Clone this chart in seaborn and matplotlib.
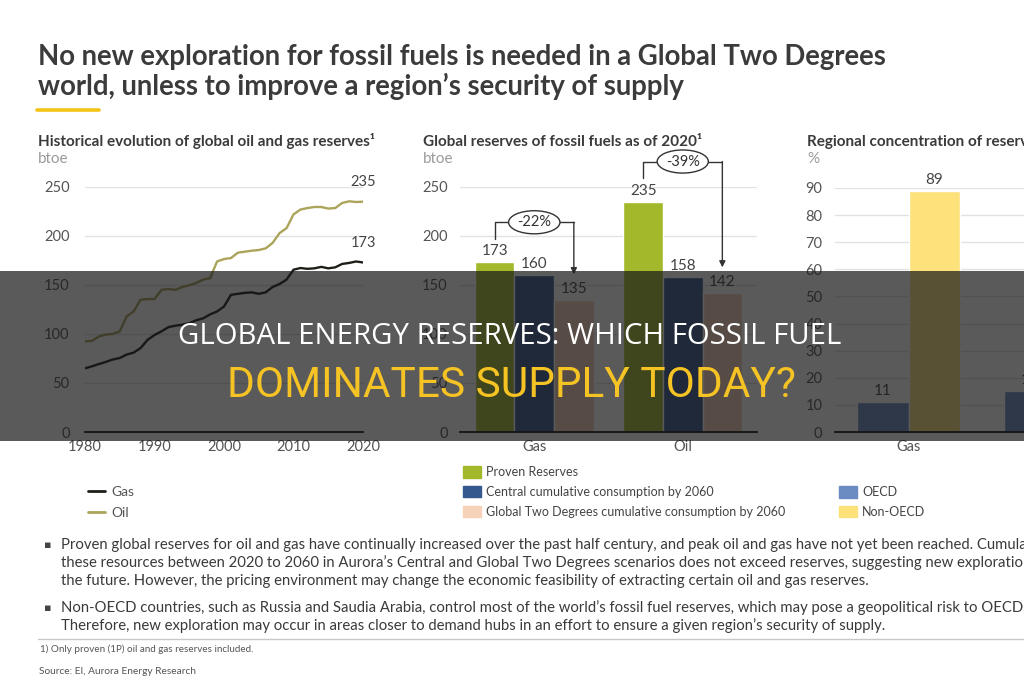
import matplotlib
matplotlib.use('Agg')
import matplotlib.pyplot as plt
from matplotlib.lines import Line2D
from matplotlib.patches import Patch, Rectangle
import numpy as np
import pandas as pd
import seaborn as sns

# historical reserves, btoe
years = list(range(1980, 2021))
gas_reserves = [65, 67, 69.4, 71.5, 74, 75.5, 79, 81, 85.7, 94, 99, 102.7, 107, 108.5, 109.5, 111, 114, 116,
                120, 123, 128, 140, 141, 142, 142.5, 141, 142.5, 148, 151, 155.5, 165.6, 167.3, 166.5, 167,
                168.5, 167, 168, 171.5, 172.5, 174, 173]
oil_reserves = [92.5, 93, 97.5, 99.5, 100, 102.7, 118, 123, 135, 135.7, 135.7, 145, 146, 145, 148, 149.7, 152,
                155.5, 157, 174, 176.5, 177.5, 183, 184, 185, 185.7, 187.4, 193, 203, 208, 222, 227, 228.5,
                229.6, 229.6, 228, 228.5, 233.7, 235.4, 234.7, 235]

# global reserves 2020 vs cumulative consumption
fuels = ['Gas', 'Oil']
series_names = ['Proven Reserves', 'Central cumulative consumption by 2060',
                'Global Two Degrees cumulative consumption by 2060']
proven = [173, 235]
central = [160, 158]
two_degrees = [135, 142]
pct_labels = ['-22%', '-39%']

# regional concentration, %
region_names = ['OECD', 'Non-OECD']
oecd_share = [11, 15]
non_oecd_share = [89, 85]

W, H = 1024, 680
dark = '#3b3b3b'
gas_col = '#1e1e18'
oil_col = '#aba45a'
bar_cols = {series_names[0]: '#a4b82b', series_names[1]: '#35598e', series_names[2]: '#f7d2b8'}
reg_cols = {'OECD': '#6b8cc2', 'Non-OECD': '#fde17a'}


def box(l, r, t, b):
    return [l / W, 1 - b / H, (r - l) / W, (b - t) / H]


def style_axis(ax, ypad):
    sns.despine(ax=ax, left=True, top=True, right=True)
    ax.spines['bottom'].set_color('#111111')
    ax.spines['bottom'].set_linewidth(1.3)
    ax.grid(axis='y', color='#e2e2e2', linewidth=1)
    ax.grid(axis='x', visible=False)
    ax.set_axisbelow(True)
    ax.tick_params(axis='both', length=0, labelsize=10.5, labelcolor='#555555')
    ax.tick_params(axis='y', pad=ypad)
    ax.tick_params(axis='x', pad=6)
    ax.set_xlabel('')
    ax.set_ylabel('')


sns.set_style('white')
plt.rcParams['font.family'] = ['Lato', 'DejaVu Sans']

fig = plt.figure(figsize=(10.24, 6.8), dpi=100)
fig.patch.set_facecolor('white')

# ---- panel 1: line chart
ax1 = fig.add_axes(box(85, 363, 187, 432))
line_df = pd.DataFrame({'Year': years * 2,
                        'Reserves': gas_reserves + oil_reserves,
                        'Fuel': ['Gas'] * len(years) + ['Oil'] * len(years)})
sns.lineplot(data=line_df, x='Year', y='Reserves', hue='Fuel', palette={'Gas': gas_col, 'Oil': oil_col},
             linewidth=1.7, legend=False, ax=ax1)
ax1.set_xlim(1980, 2020)
ax1.set_ylim(0, 250)
ax1.set_yticks(range(0, 251, 50))
ax1.set_xticks(range(1980, 2021, 10))
style_axis(ax1, 11)
ax1.annotate(str(oil_reserves[-1]), xy=(years[-1], oil_reserves[-1]), xytext=(0, 9), textcoords='offset points',
             ha='center', va='bottom', fontsize=10.5, color='#444444', annotation_clip=False)
ax1.annotate(str(gas_reserves[-1]), xy=(years[-1], gas_reserves[-1]), xytext=(0, 9), textcoords='offset points',
             ha='center', va='bottom', fontsize=10.5, color='#444444', annotation_clip=False)

# ---- panel 2: grouped bars
ax2 = fig.add_axes(box(460, 757, 187, 432))
bar_df = pd.DataFrame({'Fuel': fuels * 3,
                       'Value': proven + central + two_degrees,
                       'Series': [s for s in series_names for _ in fuels]})
sns.barplot(data=bar_df, x='Fuel', y='Value', hue='Series', palette=bar_cols, hue_order=series_names,
            errorbar=None, legend=False, saturation=1, ax=ax2)
ax2.set_xlim(-0.5, 1.5)
ax2.set_ylim(0, 250)
ax2.set_yticks(range(0, 251, 50))
style_axis(ax2, 9)
for cont in ax2.containers:
    ax2.bar_label(cont, padding=3, fontsize=11, color='#444444')

for i in range(len(fuels)):
    g_bar = ax2.containers[0][i]
    t_bar = ax2.containers[2][i]
    x_left = g_bar.get_x() + g_bar.get_width() / 2
    x_right = t_bar.get_x() + t_bar.get_width() / 2
    y_low = proven[i] + 24
    y_level = proven[i] + 41
    y_tip = two_degrees[i] + 26
    ax2.plot([x_left, x_left, x_right], [y_low, y_level, y_level], color='#333333', lw=1, clip_on=False)
    ax2.annotate('', xy=(x_right, y_tip), xytext=(x_right, y_level),
                 arrowprops=dict(arrowstyle='-|>', color='#333333', lw=1, shrinkA=0, shrinkB=0,
                                 mutation_scale=9),
                 annotation_clip=False)
    ax2.annotate(pct_labels[i], xy=((x_left + x_right) / 2, y_level), ha='center', va='center',
                 fontsize=10.5, color='#333333', annotation_clip=False,
                 bbox=dict(boxstyle='ellipse,pad=0.08', fc='white', ec='#333333', lw=1))

# ---- panel 3: regional concentration
ax3 = fig.add_axes(box(835, 1129, 188, 432))
reg_df = pd.DataFrame({'Fuel': fuels * 2,
                       'Share': oecd_share + non_oecd_share,
                       'Region': [r for r in region_names for _ in fuels]})
sns.barplot(data=reg_df, x='Fuel', y='Share', hue='Region', palette=reg_cols, hue_order=region_names,
            errorbar=None, legend=False, saturation=1, width=0.7, ax=ax3)
ax3.set_xlim(-0.5, 1.5)
ax3.set_ylim(0, 90)
ax3.set_yticks(range(0, 91, 10))
style_axis(ax3, 9)
for cont in ax3.containers:
    ax3.bar_label(cont, padding=3, fontsize=11, color='#444444')

# ---- titles
fig.text(38 / W, 1 - 65 / H, 'No new exploration for fossil fuels is needed in a Global Two Degrees',
         fontsize=19.8, fontweight='bold', color=dark)
fig.text(38 / W, 1 - 95 / H, 'world, unless to improve a region\u2019s security of supply',
         fontsize=19.8, fontweight='bold', color=dark)
fig.add_artist(Line2D([37 / W, 99 / W], [1 - 110 / H, 1 - 110 / H], color='#f3c316', lw=2.6))

subtitles = [(38, 'Historical evolution of global oil and gas reserves\u00b9', 'btoe'),
             (423, 'Global reserves of fossil fuels as of 2020\u00b9', 'btoe'),
             (807, 'Regional concentration of reserves by region', '%')]
for x, t, u in subtitles:
    fig.text(x / W, 1 - 146 / H, t, fontsize=11, fontweight='bold', color=dark)
    fig.text(x / W, 1 - 163 / H, u, fontsize=11, color='#9a9a9a')

# ---- legends
fig.legend(handles=[Line2D([], [], color=gas_col, lw=2), Line2D([], [], color=oil_col, lw=2)],
           labels=['Gas', 'Oil'], loc='upper left', bbox_to_anchor=(88 / W, 1 - 486 / H), frameon=False,
           borderpad=0, borderaxespad=0, handlelength=1.25, handletextpad=0.4, labelspacing=0.65,
           fontsize=10, labelcolor='#555555')
fig.legend(handles=[Patch(color=bar_cols[s]) for s in series_names], labels=series_names,
           loc='upper left', bbox_to_anchor=(463 / W, 1 - 466 / H), frameon=False,
           borderpad=0, borderaxespad=0, handlelength=1.44, handleheight=1.04, handletextpad=0.4,
           labelspacing=0.62, fontsize=9, labelcolor='#444444')
fig.legend(handles=[Patch(color=reg_cols[r]) for r in region_names], labels=region_names,
           loc='upper left', bbox_to_anchor=(839 / W, 1 - 486 / H), frameon=False,
           borderpad=0, borderaxespad=0, handlelength=1.44, handleheight=1.04, handletextpad=0.4,
           labelspacing=0.62, fontsize=9, labelcolor='#444444')

# ---- bullet text
bullets = [
    [(549, 'Proven global reserves for oil and gas have continually increased over the past half century, and peak oil and gas have not yet been reached. Cumulative consumption of'),
     (567, 'these resources between 2020 to 2060 in Aurora\u2019s Central and Global Two Degrees scenarios does not exceed reserves, suggesting new exploration is not needed in'),
     (585, 'the future. However, the pricing environment may change the economic feasibility of extracting certain oil and gas reserves.')],
    [(612, 'Non-OECD countries, such as Russia and Saudia Arabia, control most of the world\u2019s fossil fuel reserves, which may pose a geopolitical risk to OECD countries.'),
     (630, 'Therefore, new exploration may occur in areas closer to demand hubs in an effort to ensure a given region\u2019s security of supply.')],
]
for para in bullets:
    fig.text(44 / W, 1 - (para[0][0] - 1) / H, '\u25aa', fontsize=8, color='#444444', family='DejaVu Sans')
    for y, line in para:
        fig.text(61 / W, 1 - y / H, line, fontsize=10.75, color='#3a3a3a')

fig.add_artist(Line2D([38 / W, 1], [1 - 639 / H, 1 - 639 / H], color='#c8c8c8', lw=1))
fig.text(40 / W, 1 - 652 / H, '1) Only proven (1P) oil and gas reserves included.', fontsize=7.1, color='#555555')
fig.text(39 / W, 1 - 674 / H, 'Source: EI, Aurora Energy Research', fontsize=7.3, color='#555555')

# ---- dark banner overlay
fig.add_artist(Rectangle((0, 1 - 441 / H), 1, 170 / H, transform=fig.transFigure, facecolor='#161616',
                         edgecolor='none', alpha=0.71, zorder=10))
fig.text(510 / W, 1 - 344 / H, 'GLOBAL ENERGY RESERVES: WHICH FOSSIL FUEL', ha='center', va='baseline',
         fontsize=21.2, color='white', family='Open Sans', zorder=11)
fig.text(511 / W, 1 - 397 / H, 'DOMINATES SUPPLY TODAY?', ha='center', va='baseline',
         fontsize=30.5, color='#f6c324', family='Roboto', zorder=11)

plt.savefig('out.png', dpi=100)
plt.close()
